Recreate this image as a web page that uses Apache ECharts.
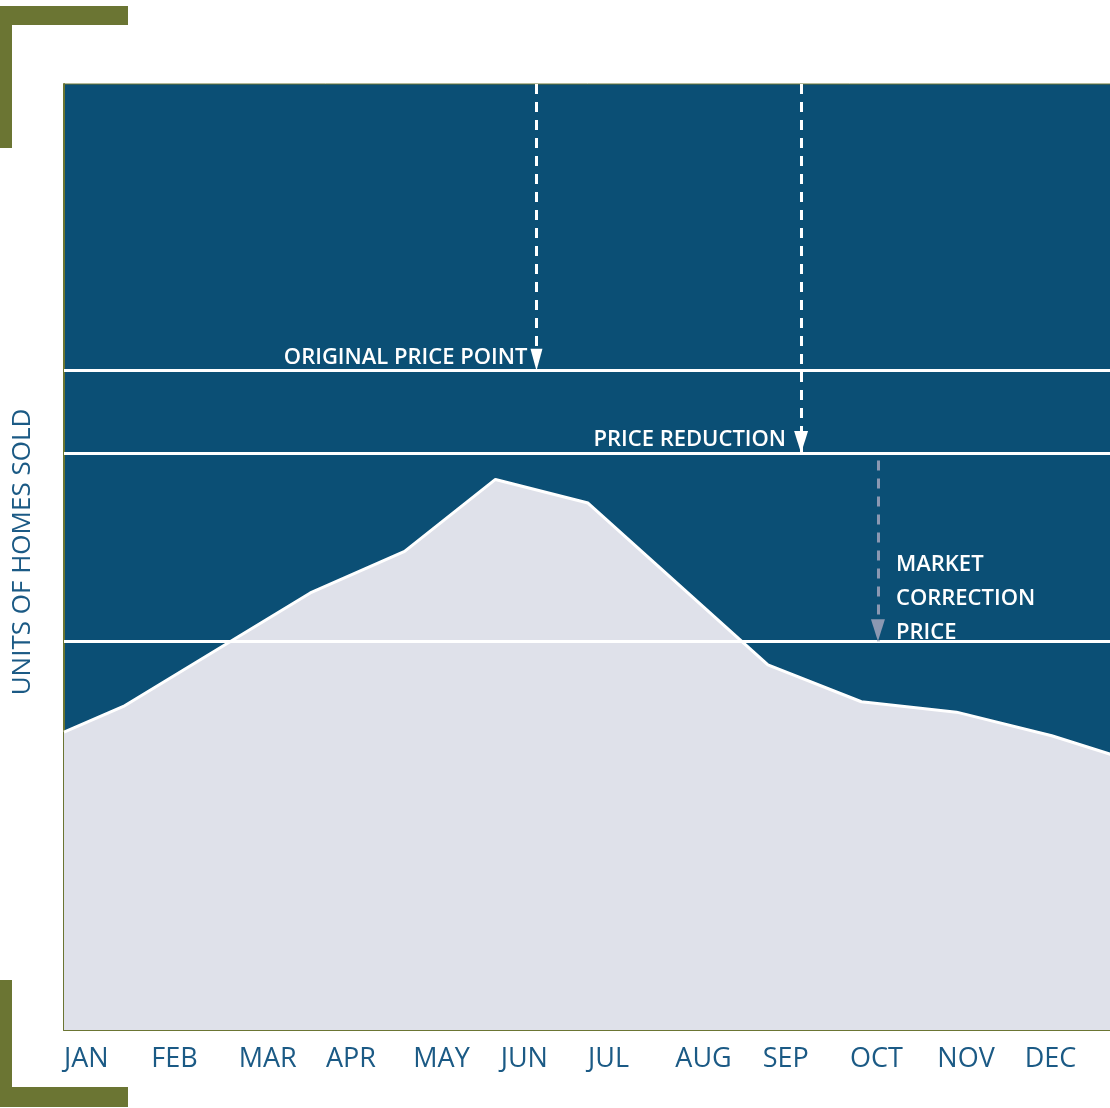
<!DOCTYPE html>
<html>
<head>
<meta charset="utf-8">
<script src="https://cdn.jsdelivr.net/npm/echarts@6/dist/echarts.min.js"></script>
<style>
  html, body { margin: 0; padding: 0; background: #ffffff; overflow: hidden; }
  #chart { width: 1110px; height: 1108px; }
</style>
</head>
<body>
<div id="chart"></div>
<script>
// Month labels along the bottom (one tick per month, 0..11)
const months = ['JAN', 'FEB', 'MAR', 'APR', 'MAY', 'JUN', 'JUL', 'AUG', 'SEP', 'OCT', 'NOV', 'DEC'];

// Units of homes sold over the year (x in months from the start of JAN)
const salesX = [0, 0.68, 2.82, 3.90, 4.94, 6.00, 8.06, 9.13, 10.22, 11.31, 12];
const salesY = [31.5, 34.2, 46.2, 50.6, 58.2, 55.7, 38.6, 34.7, 33.6, 31.1, 29.1];

// Price levels (horizontal lines) and their annotations
const priceLevels = [69.7, 61.0, 41.1];
const priceLabels = ['ORIGINAL PRICE POINT', 'PRICE REDUCTION', 'MARKET\nCORRECTION\nPRICE'];

// Downward arrows pointing at each price level
const arrowX = [5.41, 8.44, 9.32];
const arrowFromY = [100, 100, 60.2];

const NAVY = '#0b4f75';
const OLIVE = '#6b7533';
const AREA = '#dfe1ea';
const TEXT_BLUE = '#1b5a85';
const ARROW_COLORS = ['#ffffff', '#ffffff', '#8b98b2'];

const chart = echarts.init(document.getElementById('chart'));

const levelLines = priceLevels.map(v => ({
  yAxis: v,
  symbol: 'none',
  lineStyle: { color: '#ffffff', width: 3, type: 'solid' }
}));

// Triangle heads are centred on the end point, so shift them back by half their length
const arrowLines = arrowX.map((x, i) => [
  {
    coord: [x, arrowFromY[i]],
    symbol: 'none',
    lineStyle: { color: ARROW_COLORS[i], width: 3, type: [10, 8] }
  },
  {
    coord: [x, priceLevels[i]],
    symbol: 'triangle',
    symbolSize: i === 0 ? [12, 22] : [14, 22],
    symbolOffset: [0, 11]
  }
]);

const labelOffsets = [[-9, 4], [-15, 4], [18, 9]];
const labelPoints = priceLabels.map((t, i) => ({
  coord: [arrowX[i], priceLevels[i]],
  symbol: 'circle',
  symbolSize: 0,
  label: {
    show: true,
    formatter: t,
    position: labelOffsets[i],
    align: i === 2 ? 'left' : 'right',
    verticalAlign: 'bottom',
    color: '#ffffff',
    fontFamily: 'Open Sans',
    fontWeight: 600,
    fontSize: 22,
    lineHeight: 34
  }
}));

chart.setOption({
  animation: false,
  grid: {
    left: 64, right: -2, top: 84, bottom: 78,
    outerBoundsMode: 'none',
    containLabel: false,
    show: true,
    backgroundColor: NAVY,
    borderColor: OLIVE,
    borderWidth: 1
  },
  xAxis: {
    type: 'value',
    min: 0, max: 12, interval: 1,
    axisLine: { show: true, lineStyle: { color: OLIVE, width: 2 } },
    axisTick: { show: false },
    splitLine: { show: false },
    axisLabel: {
      formatter: v => months[v] || '',
      align: 'left',
      margin: 16,
      color: TEXT_BLUE,
      fontFamily: 'Open Sans',
      fontSize: 27
    }
  },
  yAxis: {
    type: 'value',
    min: 0, max: 100,
    name: 'UNITS OF HOMES SOLD',
    nameLocation: 'middle',
    nameGap: 28,
    nameTextStyle: { color: TEXT_BLUE, fontFamily: 'Open Sans', fontSize: 26, padding: [0, 0, 0, 10] },
    axisLine: { show: true, lineStyle: { color: OLIVE, width: 2 } },
    axisTick: { show: false },
    axisLabel: { show: false },
    splitLine: { show: false }
  },
  series: [{
    type: 'line',
    data: salesX.map((x, i) => [x, salesY[i]]),
    showSymbol: false,
    lineStyle: { color: '#ffffff', width: 3 },
    areaStyle: { color: AREA, opacity: 1 },
    markLine: {
      silent: true,
      label: { show: false },
      symbol: 'none',
      data: levelLines.concat(arrowLines)
    },
    markPoint: {
      silent: true,
      data: labelPoints
    }
  }],
  graphic: [
    { type: 'rect', shape: { x: 0, y: 6, width: 128, height: 19 }, style: { fill: OLIVE } },
    { type: 'rect', shape: { x: 0, y: 6, width: 12, height: 142 }, style: { fill: OLIVE } },
    { type: 'rect', shape: { x: 0, y: 980, width: 12, height: 127 }, style: { fill: OLIVE } },
    { type: 'rect', shape: { x: 0, y: 1087, width: 128, height: 20 }, style: { fill: OLIVE } }
  ]
});
</script>
</body>
</html>
